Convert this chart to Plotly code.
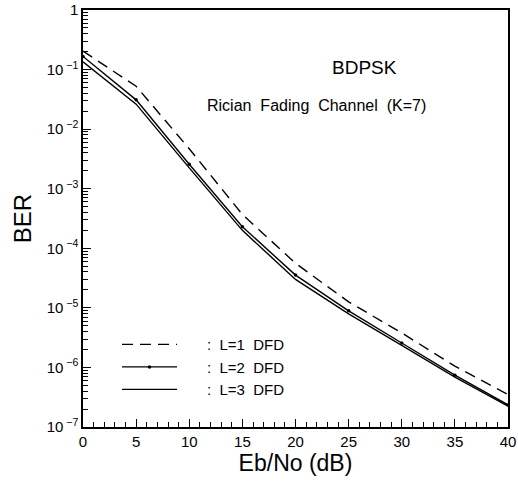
import plotly.graph_objects as go

snr_db = [0, 5, 10, 15, 20, 25, 30, 35, 40]
ber_L1 = [0.204, 0.0525, 0.00468, 3.7e-4, 5.6e-5, 1.26e-5, 3.8e-6, 1.05e-6, 3.5e-7]
ber_L2 = [0.166, 0.031, 0.00257, 2.3e-4, 3.55e-5, 8.9e-6, 2.57e-6, 7.4e-7, 2.35e-7]
ber_L3 = [0.135, 0.0263, 0.00224, 2.0e-4, 3.0e-5, 7.9e-6, 2.35e-6, 6.9e-7, 2.25e-7]

y_tickvals = [1, 1e-1, 1e-2, 1e-3, 1e-4, 1e-5, 1e-6, 1e-7]
y_ticktext = ["1"] + ["10<sup> \u2212%d</sup>" % k for k in range(1, 8)]
x_tickvals = [0, 5, 10, 15, 20, 25, 30, 35, 40]
x_ticktext = ["0", "5", "10", "15", "20", "25", "30", "35", "40"]

FONT = "Liberation Sans"
NB = "\u00a0"

fig = go.Figure()
fig.add_trace(go.Scatter(
    x=snr_db, y=ber_L1, mode="lines", name=NB * 6 + ":" + NB * 2 + "L=1" + NB * 2 + "DFD",
    line=dict(color="black", width=1.4, dash="11px,7px"),
))
fig.add_trace(go.Scatter(
    x=snr_db, y=ber_L2, mode="lines+markers", name=NB * 6 + ":" + NB * 2 + "L=2" + NB * 2 + "DFD",
    line=dict(color="black", width=1.4),
    marker=dict(color="black", size=3.5),
))
fig.add_trace(go.Scatter(
    x=snr_db, y=ber_L3, mode="lines", name=NB * 6 + ":" + NB * 2 + "L=3" + NB * 2 + "DFD",
    line=dict(color="black", width=1.4),
))

minor_y = [m * 10.0 ** e for e in range(-7, 0) for m in range(2, 10)]

fig.update_layout(
    width=518, height=483,
    margin=dict(l=83, r=10, t=10, b=56),
    paper_bgcolor="white", plot_bgcolor="white",
    font=dict(family=FONT, color="black", size=15),
    showlegend=True,
    legend=dict(
        x=0.08, y=0.237, xanchor="left", yanchor="top",
        bgcolor="rgba(0,0,0,0)", font=dict(size=15, family=FONT),
        itemwidth=55, tracegroupgap=0,
    ),
    xaxis=dict(
        range=[0, 40], tickmode="array", tickvals=x_tickvals, ticktext=x_ticktext,
        ticks="inside", ticklen=8, tickcolor="black", tickwidth=1,
        showline=True, linecolor="black", linewidth=1.5, mirror=True,
        showgrid=False, zeroline=False, automargin=False,
        tickfont=dict(size=15, family=FONT),
        minor=dict(dtick=1, ticks="inside", ticklen=5, tickcolor="black", showgrid=False),
        title=dict(text="Eb/No (dB)", font=dict(size=23, family=FONT), standoff=4),
    ),
    yaxis=dict(
        type="log", range=[-7, 0], tickmode="array",
        tickvals=y_tickvals, ticktext=y_ticktext,
        ticks="inside", ticklen=8, tickcolor="black", tickwidth=1,
        showline=True, linecolor="black", linewidth=1.5, mirror=True,
        showgrid=False, zeroline=False, automargin=False,
        tickfont=dict(size=15, family=FONT),
        minor=dict(tickmode="array", tickvals=minor_y, ticks="inside", ticklen=5,
                   tickcolor="black", showgrid=False),
        title=dict(text="BER", font=dict(size=24, family=FONT), standoff=8),
    ),
    annotations=[
        dict(text="BDPSK", x=0.744, y=0.892, xref="paper", yref="paper",
             showarrow=False, font=dict(size=19, family=FONT)),
        dict(text="Rician  Fading  Channel  (K=7)", x=0.55, y=0.796,
             xref="paper", yref="paper", showarrow=False,
             font=dict(size=16, family=FONT)),
    ],
)

fig.write_html(
    "out.html",
    config={"displayModeBar": False},
    post_script="document.body.style.margin='0';document.body.style.overflow='hidden';",
)
